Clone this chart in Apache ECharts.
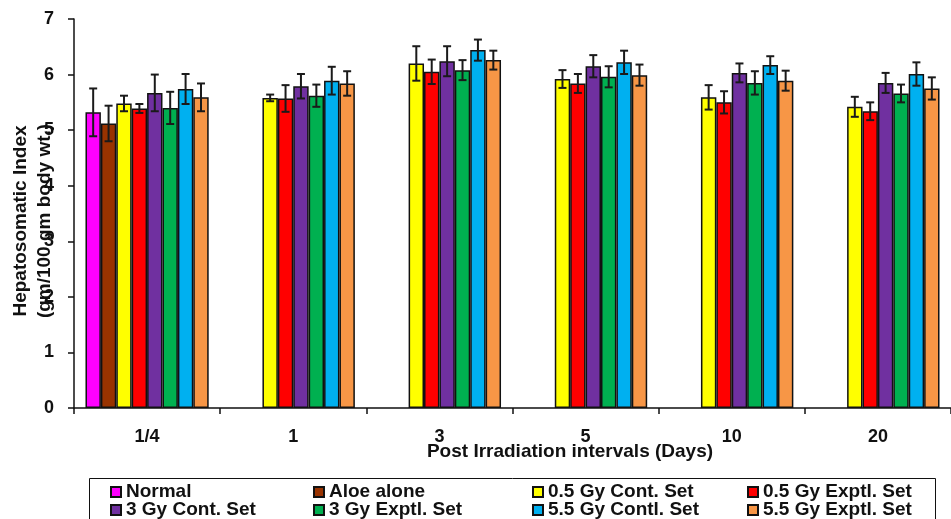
<!DOCTYPE html>
<html>
<head>
<meta charset="utf-8">
<script src="https://cdn.jsdelivr.net/npm/echarts@6/dist/echarts.min.js"></script>
<style>html,body{margin:0;padding:0;background:#fff}#c{width:951px;height:519px}</style>
</head>
<body>
<div id="c"></div>
<script>
const categories = ['1/4', '1', '3', '5', '10', '20'];
const yTicks = [0, 1, 2, 3, 4, 5, 6, 7];
const seriesNames = ['Normal', 'Aloe alone', '0.5 Gy Cont. Set', '0.5 Gy Exptl. Set',
  '3 Gy Cont. Set', '3 Gy Exptl. Set', '5.5 Gy Contl. Set', '5.5 Gy Exptl. Set'];
const colors = ['#FF00FF', '#993300', '#FFFF00', '#FF0000', '#7030A0', '#00B050', '#00B0F0', '#F79646'];

const normal      = [5.32, null, null, null, null, null];
const aloe        = [5.12, null, null, null, null, null];
const gy05Cont    = [5.48, 5.58, 6.20, 5.92, 5.59, 5.42];
const gy05Exptl   = [5.39, 5.57, 6.05, 5.84, 5.50, 5.34];
const gy3Cont     = [5.67, 5.79, 6.24, 6.15, 6.03, 5.85];
const gy3Exptl    = [5.40, 5.62, 6.08, 5.96, 5.85, 5.66];
const gy55Cont    = [5.74, 5.89, 6.44, 6.22, 6.17, 6.01];
const gy55Exptl   = [5.59, 5.84, 6.26, 5.99, 5.89, 5.75];

const normalErr    = [0.43, null, null, null, null, null];
const aloeErr      = [0.32, null, null, null, null, null];
const gy05ContErr  = [0.14, 0.06, 0.31, 0.16, 0.22, 0.18];
const gy05ExptlErr = [0.08, 0.24, 0.22, 0.17, 0.20, 0.16];
const gy3ContErr   = [0.33, 0.22, 0.27, 0.20, 0.17, 0.18];
const gy3ExptlErr  = [0.29, 0.20, 0.18, 0.19, 0.21, 0.16];
const gy55ContErr  = [0.27, 0.25, 0.19, 0.21, 0.16, 0.21];
const gy55ExptlErr = [0.25, 0.22, 0.17, 0.19, 0.18, 0.20];

const values = [normal, aloe, gy05Cont, gy05Exptl, gy3Cont, gy3Exptl, gy55Cont, gy55Exptl];
const errors = [normalErr, aloeErr, gy05ContErr, gy05ExptlErr, gy3ContErr, gy3ExptlErr, gy55ContErr, gy55ExptlErr];

const FONT = "'Liberation Sans', Arial, sans-serif";
const CAT_GAP = 0.157;

const errData = [];
values.forEach((arr, s) => arr.forEach((v, c) => {
  if (v != null) errData.push([c, s, v, errors[s][c]]);
}));

const barSeries = values.map((arr, s) => ({
  name: seriesNames[s],
  type: 'bar',
  data: arr,
  barGap: '0%',
  barCategoryGap: (CAT_GAP * 100) + '%',
  itemStyle: { color: colors[s], borderColor: '#111', borderWidth: 1.5 },
  emphasis: { disabled: true },
  animation: false
}));

const errSeries = {
  type: 'custom',
  data: errData,
  encode: { x: 0, y: 2 },
  z: 10,
  silent: true,
  animation: false,
  clip: false,
  renderItem: function (params, api) {
    const cat = api.value(0), s = api.value(1), v = api.value(2), e = api.value(3);
    const band = api.size([1, 0])[0];
    const bw = band * (1 - CAT_GAP) / seriesNames.length;
    const c = api.coord([cat, v]);
    const x = c[0] - bw * seriesNames.length / 2 + (s + 0.5) * bw;
    const yt = api.coord([cat, v + e])[1];
    const yb = api.coord([cat, v - e])[1];
    const cap = 4;
    const st = { stroke: '#1a1a1a', lineWidth: 2 };
    return {
      type: 'group',
      children: [
        { type: 'line', shape: { x1: x, y1: yt, x2: x, y2: yb }, style: st },
        { type: 'line', shape: { x1: x - cap, y1: yt, x2: x + cap, y2: yt }, style: st },
        { type: 'line', shape: { x1: x - cap, y1: yb, x2: x + cap, y2: yb }, style: st }
      ]
    };
  }
};

const legendCols = [110, 313, 532, 747];
const legendRows = [492, 510];
const legends = seriesNames.map((n, i) => ({
  data: [n],
  left: legendCols[i % 4],
  top: legendRows[Math.floor(i / 4)] - 9.5,
  padding: 0,
  icon: 'rect',
  itemWidth: 10,
  itemHeight: 10,
  selectedMode: false,
  textStyle: { fontFamily: FONT, fontSize: 19, fontWeight: 'bold', color: '#111', lineHeight: 19 }
}));

const chart = echarts.init(document.getElementById('c'), null, { renderer: 'canvas' });
chart.setOption({
  animation: false,
  backgroundColor: '#fff',
  grid: { left: 74, top: 19, bottom: 111, right: -6, containLabel: false },
  xAxis: {
    type: 'category',
    data: categories,
    axisLine: { lineStyle: { color: '#111', width: 1.5 } },
    axisTick: { show: true, length: 6, lineStyle: { color: '#111', width: 1.5 } },
    axisLabel: { margin: 20, fontFamily: FONT, fontWeight: 'bold', fontSize: 18, color: '#111' }
  },
  yAxis: {
    type: 'value',
    min: yTicks[0],
    max: yTicks[yTicks.length - 1],
    interval: 1,
    splitLine: { show: false },
    axisLine: { show: true, lineStyle: { color: '#111', width: 1.5 } },
    axisTick: { show: true, length: 6, lineStyle: { color: '#111', width: 1.5 } },
    axisLabel: { margin: 20, fontFamily: FONT, fontWeight: 'bold', fontSize: 18, color: '#111' }
  },
  legend: legends,
  graphic: [
    {
      type: 'text', x: 33, y: 221, rotation: Math.PI / 2, z: 100,
      style: {
        text: 'Hepatosomatic Index\n(gm/100 gm body wt.)',
        font: "bold 19px 'Liberation Sans', Arial, sans-serif",
        fill: '#111', textAlign: 'center', textVerticalAlign: 'middle', lineHeight: 24
      }
    },
    {
      type: 'text', x: 570, y: 452, z: 100,
      style: {
        text: 'Post Irradiation intervals (Days)',
        font: "bold 19px 'Liberation Sans', Arial, sans-serif",
        fill: '#111', textAlign: 'center', textVerticalAlign: 'middle'
      }
    },
    {
      type: 'rect', z: 50,
      shape: { x: 89.5, y: 478.5, width: 846, height: 60 },
      style: { fill: 'none', stroke: '#111', lineWidth: 1 }
    }
  ],
  series: barSeries.concat([errSeries])
});
</script>
</body>
</html>
